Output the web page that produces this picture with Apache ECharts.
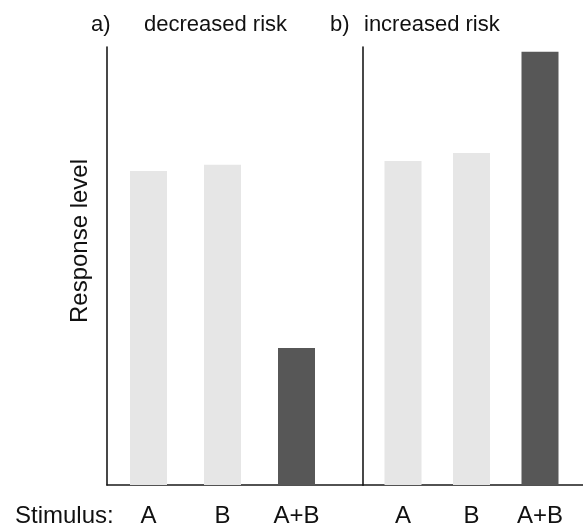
<!DOCTYPE html>
<html>
<head>
<meta charset="utf-8">
<script src="https://cdn.jsdelivr.net/npm/echarts@6/dist/echarts.min.js"></script>
<style>
html,body{margin:0;padding:0;background:#fff;}
#chart{width:583px;height:529px;}
</style>
</head>
<body>
<div id="chart"></div>
<script>
const categories = ['A', 'B', 'A+B'];
const decreasedRisk = [71.7, 73.1, 31.3];
const increasedRisk = [74.0, 75.8, 98.9];
const panelTitles = ['a)', 'decreased risk', 'b)', 'increased risk'];
const yAxisName = 'Response level';
const xAxisPrefix = 'Stimulus:';

const FONT = '"Liberation Sans", Arial, sans-serif';
const LIGHT = '#e6e6e6';
const DARK = '#575757';
const LINE = '#1a1a1a';

const colorFn = p => (p.name === 'A+B' ? DARK : LIGHT);

const hiddenValueAxis = (gridIndex, showLine) => ({
  type: 'value', gridIndex, min: 0, max: 100,
  axisLine: { show: showLine, onZero: false, lineStyle: { color: LINE, width: 1.6 } },
  axisTick: { show: false }, axisLabel: { show: false }, splitLine: { show: false }
});

const catAxis = (gridIndex) => ({
  type: 'category', gridIndex, data: categories,
  axisLine: { show: false }, axisTick: { show: false },
  axisLabel: { color: '#111', fontSize: 24, fontFamily: FONT, margin: 19 }
});

const titleStyle = { fontSize: 22, fontWeight: 'normal', color: '#111', fontFamily: FONT };

const chart = echarts.init(document.getElementById('chart'), null, { renderer: 'canvas' });
chart.setOption({
  animation: false,
  backgroundColor: '#fff',
  title: [
    { text: panelTitles[0], left: 86, top: 9, textStyle: titleStyle },
    { text: panelTitles[1], left: 139, top: 9, textStyle: titleStyle },
    { text: panelTitles[2], left: 325, top: 9, textStyle: titleStyle },
    { text: panelTitles[3], left: 359, top: 9, textStyle: titleStyle },
    { text: xAxisPrefix, left: 10, top: 499, textStyle: { fontSize: 24, fontWeight: 'normal', color: '#111', fontFamily: FONT } }
  ],
  graphic: [
    {
      type: 'text', x: 80, y: 241, rotation: Math.PI / 2,
      style: { text: yAxisName, fontSize: 24, fontFamily: FONT, fill: '#111', align: 'center', verticalAlign: 'middle' }
    }
  ],
  grid: [
    { left: 111.5, width: 222, top: 47, bottom: 44 },
    { left: 368.75, width: 205.5, top: 47, bottom: 44 },
    { left: 107, width: 256, top: 47, bottom: 44 },
    { left: 363, right: 0, top: 47, bottom: 44 }
  ],
  xAxis: [
    catAxis(0),
    catAxis(1),
    { type: 'value', gridIndex: 2, min: 0, max: 1, axisLine: { show: true, onZero: false, lineStyle: { color: LINE, width: 1.6 } }, axisTick: { show: false }, axisLabel: { show: false }, splitLine: { show: false } },
    { type: 'value', gridIndex: 3, min: 0, max: 1, axisLine: { show: true, onZero: false, lineStyle: { color: LINE, width: 1.6 } }, axisTick: { show: false }, axisLabel: { show: false }, splitLine: { show: false } }
  ],
  yAxis: [
    hiddenValueAxis(0, false),
    hiddenValueAxis(1, false),
    hiddenValueAxis(2, true),
    hiddenValueAxis(3, true)
  ],
  series: [
    { type: 'bar', xAxisIndex: 0, yAxisIndex: 0, data: decreasedRisk, barWidth: 37, itemStyle: { color: colorFn } },
    { type: 'bar', xAxisIndex: 1, yAxisIndex: 1, data: increasedRisk, barWidth: 37, itemStyle: { color: colorFn } }
  ]
});
</script>
</body>
</html>
